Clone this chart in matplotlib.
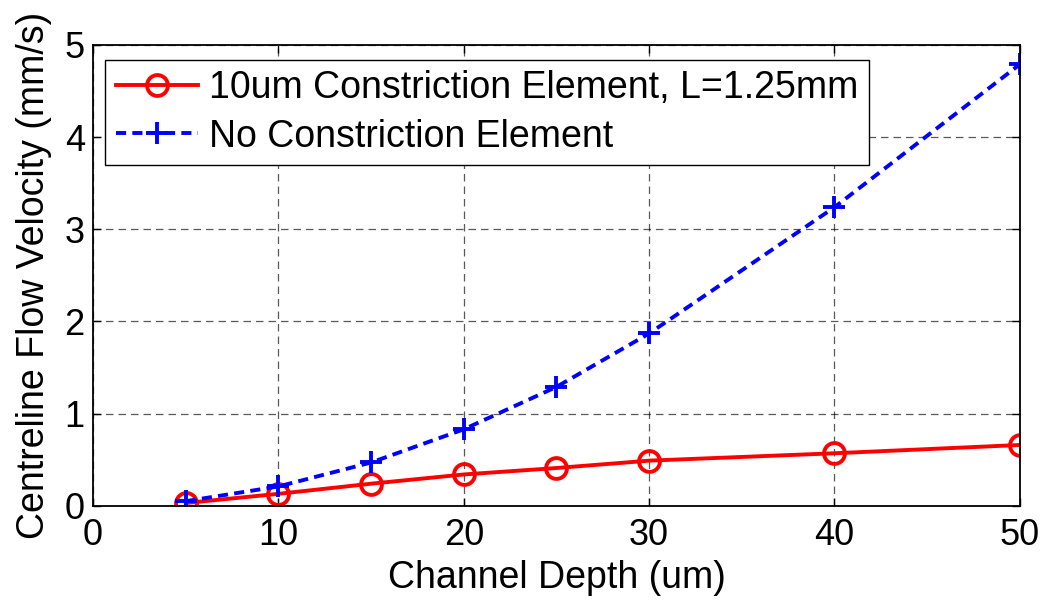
import matplotlib
matplotlib.use("Agg")
import matplotlib.pyplot as plt

# channel depth (um) and centreline velocity (mm/s)
depth = [5, 10, 15, 20, 25, 30, 40, 50]
v_constricted = [0.03, 0.13, 0.24, 0.34, 0.41, 0.49, 0.57, 0.66]
v_open = [0.05, 0.21, 0.47, 0.83, 1.29, 1.87, 3.24, 4.79]

x_ticks = [0, 10, 20, 30, 40, 50]
y_ticks = [0, 1, 2, 3, 4, 5]

plt.rcParams['font.family'] = ['Liberation Sans', 'DejaVu Sans']
FS = 27

fig = plt.figure(figsize=(10.46, 6.0), dpi=100)
ax = fig.add_axes([0.089, 0.157, 0.886, 0.768])

ax.plot(depth, v_constricted, color='red', linestyle='-', linewidth=2.8,
        marker='o', markersize=15, markerfacecolor='none',
        markeredgewidth=2.8, label='10um Constriction Element, L=1.25mm')
ax.plot(depth, v_open, color='blue', linestyle='--', linewidth=2.8,
        dashes=(2.6, 1.6), marker='+', markersize=16, markeredgewidth=2.8,
        label='No Constriction Element')

ax.set_xlim(0, 50)
ax.set_ylim(0, 5)
ax.set_xticks(x_ticks)
ax.set_yticks(y_ticks)
ax.tick_params(direction='in', top=True, right=True, labelsize=26,
               length=6, width=1)
ax.tick_params(axis='x', pad=9)
ax.tick_params(axis='y', pad=6)
ax.grid(True, color='black', linestyle=(0, (6, 4)), linewidth=0.9, alpha=0.65)
for s in ax.spines.values():
    s.set_linewidth(1.3)

ax.set_xlabel('Channel Depth (um)', fontsize=FS, labelpad=5)
ax.set_ylabel('Centreline Flow Velocity (mm/s)', fontsize=FS, labelpad=9)

leg = ax.legend(loc='upper left', bbox_to_anchor=(0.013, 0.968), fontsize=FS,
                fancybox=False, framealpha=1, edgecolor='black',
                handlelength=2.2, borderpad=0.28, labelspacing=0.33,
                handletextpad=0.3, borderaxespad=0)
leg.get_frame().set_linewidth(1.0)

fig.savefig('out.png', dpi=100)
